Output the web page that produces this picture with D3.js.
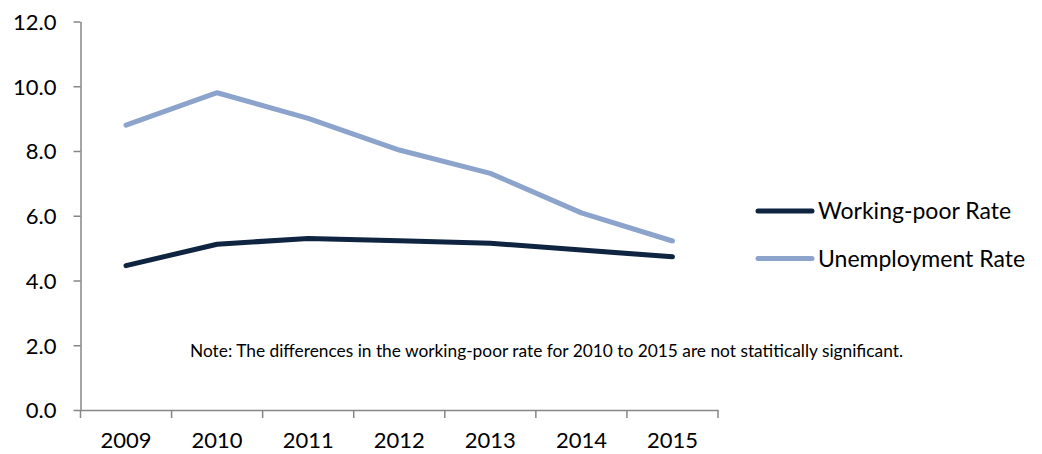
<!DOCTYPE html>
<html>
<head>
<meta charset="utf-8">
<script src="https://cdn.jsdelivr.net/npm/d3@7"></script>
<style>
  body { margin: 0; background: #fff; }
  svg text { font-family: Lato, "Open Sans", sans-serif; fill: #000; }
</style>
</head>
<body>
<div id="chart"></div>
<script>
/* DATA */
const years = ["2009", "2010", "2011", "2012", "2013", "2014", "2015"];
const workingPoor = [4.46, 5.12, 5.30, 5.23, 5.15, 4.94, 4.73];
const unemployment = [8.80, 9.80, 9.01, 8.03, 7.31, 6.09, 5.22];
const yTicks = [0, 2, 4, 6, 8, 10, 12];
const seriesNames = ["Working-poor Rate", "Unemployment Rate"];
const noteText = "Note: The differences in the working-poor rate for 2010 to 2015 are not statitically significant.";

/* CONSTANTS */
const width = 1042,
  height = 454,
  margin = { top: 21.5, bottom: 44, left: 80.5, right: 324 };

const colors = ["#0f2441", "#8ca3cb"];
const axisColor = "#868686";

const svg = d3.select("#chart")
  .append("svg")
  .attr("width", width)
  .attr("height", height);

// scales
const xScale = d3.scaleBand()
  .domain(years)
  .range([margin.left, width - margin.right])
  .padding(0);

const yScale = d3.scaleLinear()
  .domain([0, 12])
  .range([height - margin.bottom, margin.top]);

// y axis
const yAxis = d3.axisLeft(yScale)
  .tickValues(yTicks)
  .tickFormat(d3.format(".1f"))
  .tickSize(7)
  .tickSizeOuter(0)
  .tickPadding(17);

const yAxisGroup = svg.append("g")
  .attr("transform", `translate(${margin.left}, 0)`)
  .call(yAxis);

yAxisGroup.selectAll("path, line")
  .attr("stroke", axisColor)
  .attr("stroke-width", 1.5);
yAxisGroup.selectAll("text")
  .attr("font-size", 22)
  .attr("dy", "0.36em");

// x axis (labels centred in bands, ticks on band edges)
const xAxis = d3.axisBottom(xScale)
  .tickSize(0)
  .tickSizeOuter(0)
  .tickPadding(22);

const xAxisGroup = svg.append("g")
  .attr("transform", `translate(0, ${height - margin.bottom})`)
  .call(xAxis);

xAxisGroup.select(".domain")
  .attr("stroke", axisColor)
  .attr("stroke-width", 1.5);
xAxisGroup.selectAll("text")
  .attr("font-size", 22)
  .attr("dy", "0.71em");

const edges = years.map(d => xScale(d)).concat([xScale.range()[1]]);
xAxisGroup.selectAll(".edge")
  .data(edges)
  .join("line")
  .attr("class", "edge")
  .attr("x1", d => d)
  .attr("x2", d => d)
  .attr("y1", 0)
  .attr("y2", 8)
  .attr("stroke", axisColor)
  .attr("stroke-width", 1.5);

// lines
const series = [workingPoor, unemployment];
const lineGen = d3.line()
  .x((d, i) => xScale(years[i]) + xScale.bandwidth() / 2)
  .y(d => yScale(d));

svg.selectAll(".line")
  .data(series)
  .join("path")
  .attr("class", "line")
  .attr("fill", "none")
  .attr("stroke", (d, i) => colors[i])
  .attr("stroke-width", 5)
  .attr("stroke-linecap", "round")
  .attr("stroke-linejoin", "round")
  .attr("d", d => lineGen(d));

// note
svg.append("text")
  .attr("x", 190)
  .attr("y", 357)
  .attr("font-size", 17)
  .attr("textLength", 713)
  .attr("lengthAdjust", "spacingAndGlyphs")
  .text(noteText);

// legend
const legend = svg.selectAll(".legend")
  .data(seriesNames)
  .join("g")
  .attr("class", "legend")
  .attr("transform", (d, i) => `translate(758, ${211 + i * 47.5})`);

legend.append("line")
  .attr("x1", 0)
  .attr("x2", 54)
  .attr("stroke", (d, i) => colors[i])
  .attr("stroke-width", 5)
  .attr("stroke-linecap", "round");

legend.append("text")
  .attr("x", 60)
  .attr("dy", "0.35em")
  .attr("font-size", 23)
  .text(d => d);
</script>
</body>
</html>
